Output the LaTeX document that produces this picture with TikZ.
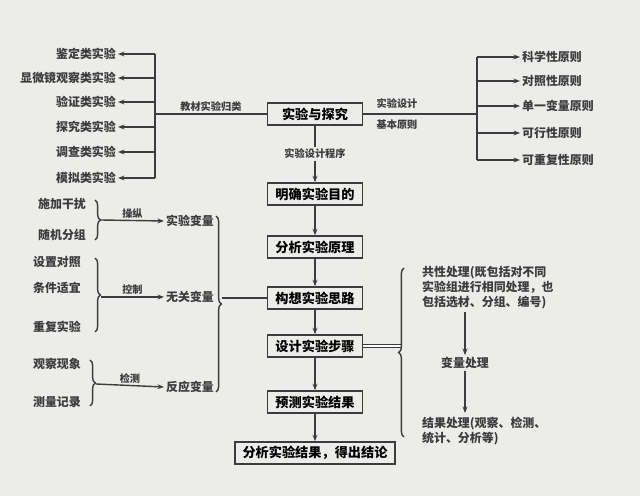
\documentclass[tikz,border=0pt]{standalone}
\usepackage{fontspec}
\setmainfont{Noto Sans CJK SC}
\usetikzlibrary{positioning,arrows.meta,decorations.pathreplacing,calc}
\definecolor{PaperGray}{RGB}{236,236,234}
\definecolor{InkGray}{RGB}{60,60,60}
\tikzset{
  % Step box
  stepbox/.style={
    draw=InkGray,
    thick,
    fill=PaperGray,
    minimum width=19mm,
    minimum height=4.4mm,
    inner sep=1pt,
    font=\fontsize{7.5}{9}\selectfont\bfseries
  },
  % Plain label
  tlabel/.style={
    text=InkGray,
    inner sep=1pt,
    font=\fontsize{6.8}{8.5}\selectfont\bfseries
  },
  % Small edge label
  elabel/.style={
    text=InkGray,
    inner sep=1pt,
    font=\fontsize{5.8}{7}\selectfont\bfseries
  },
  % Connectors
  edge/.style={draw=InkGray, thick},
  dedge/.style={draw=InkGray, thick, -{Stealth[length=1.3mm]}},
  brace/.style={draw=InkGray, thick, decorate, decoration={brace, amplitude=3pt}}
}
\begin{document}
\begin{tikzpicture}[x=0.02cm, y=-0.02cm]
  \fill[PaperGray] (0,0) rectangle (640,496);
  \useasboundingbox (0,0) rectangle (640,496);

  % Main column
  \node[stepbox] (root) at (315,114) {实验与探究};
  \node[stepbox] (s1) at (315,194) {明确实验目的};
  \node[stepbox] (s2) at (315,247) {分析实验原理};
  \node[stepbox] (s3) at (315,298) {构想实验思路};
  \node[stepbox] (s4) at (315,346) {设计实验步骤};
  \node[stepbox] (s5) at (315,402) {预测实验结果};
  \node[stepbox, minimum width=32mm] (s6) at (315,453) {分析实验结果，得出结论};

  \draw[dedge] (root) -- node[elabel, fill=PaperGray] {实验设计程序} (s1);
  \foreach \a/\b in {s1/s2, s2/s3, s3/s4, s4/s5, s5/s6}
    \draw[dedge] (\a) -- (\b);

  % Textbook experiment types
  \coordinate (lbus) at (155,114);
  \draw[edge] (root.west) -- node[elabel, above] {教材实验归类} (lbus);
  \draw[edge] (155,54) -- (155,178);
  \foreach \t/\y [count=\i] in {鉴定类实验/54, 显微镜观察类实验/78, 验证类实验/102,
                                探究类实验/127, 调查类实验/152, 模拟类实验/178} {
    \node[tlabel, anchor=east] (k\i) at (118,\y) {\t};
    \draw[dedge] (155,\y) -- (k\i.east);
  }

  % Basic principles
  \coordinate (rbus) at (477,114);
  \draw[edge] (root.east) -- (rbus);
  \node[elabel] (pl1) at (397,104) {实验设计};
  \node[elabel] (pl2) at (397,125) {基本原则};
  \draw[edge] (477,57) -- (477,160);
  \foreach \t/\y [count=\i] in {科学性原则/57, 对照性原则/81, 单一变量原则/106,
                                可行性原则/133, 可重复性原则/160} {
    \node[tlabel, anchor=west] (p\i) at (520,\y) {\t};
    \draw[dedge] (477,\y) -- (p\i.west);
  }

  % Variables
  \node[tlabel] (a1) at (62,204) {施加干扰};
  \node[tlabel] (a2) at (62,235) {随机分组};
  \node[tlabel] (b1) at (57,262) {设置对照};
  \node[tlabel] (b2) at (57,288) {条件适宜};
  \node[tlabel] (b3) at (57,327) {重复实验};
  \node[tlabel] (c1) at (57,364) {观察现象};
  \node[tlabel] (c2) at (57,402) {测量记录};
  \node[tlabel] (v1) at (190,221) {实验变量};
  \node[tlabel] (v2) at (190,297) {无关变量};
  \node[tlabel] (v3) at (190,387) {反应变量};

  \draw[brace] (95,200) -- (95,240);
  \draw[brace] (95,258) -- (95,332);
  \draw[brace] (90,360) -- (90,406);
  \draw[dedge] (101,220) -- node[elabel, above] {操纵} (v1.west);
  \draw[dedge] (101,297) -- node[elabel, above] {控制} (v2.west);
  \draw[dedge] (96,384) -- node[elabel, above] {检测} (v3.west);

  \draw[brace] (216,216) -- (216,392);
  \draw[edge] (222,298) -- (s3.west);

  % Processing
  \draw[edge, double] (s4.east) -- (402,346);
  \draw[brace] (404,437) -- (404,268);
  \node[tlabel, anchor=north west, align=left] (q1) at (420,264)
    {共性处理(既包括对不同\\实验组进行相同处理，也\\包括选材、分组、编号)};
  \node[tlabel] (q2) at (465,363) {变量处理};
  \node[tlabel, anchor=north west, align=left] (q3) at (420,415)
    {结果处理(观察、检测、\\统计、分析等)};
  \draw[dedge] (465,312) -- (q2.north);
  \draw[dedge] (q2.south) -- (465,413);
\end{tikzpicture}
\end{document}
